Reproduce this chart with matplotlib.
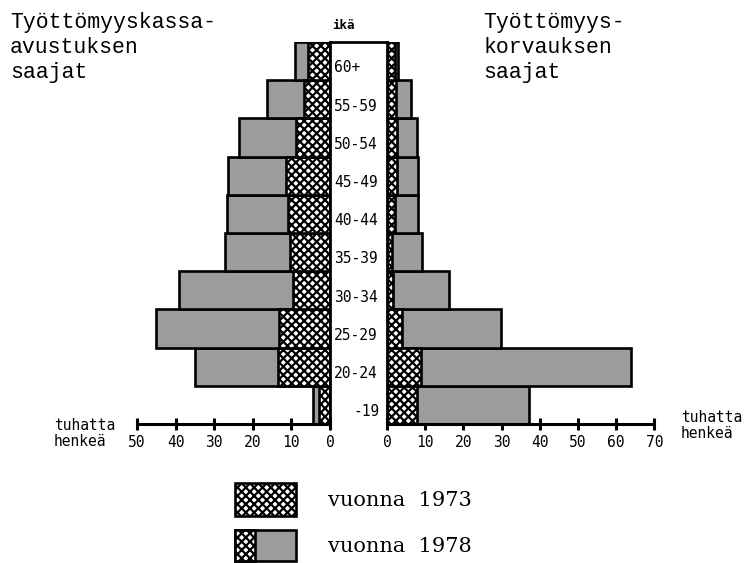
import matplotlib
matplotlib.use("Agg")
import matplotlib.pyplot as plt
from matplotlib.patches import Rectangle

# ---------------- data (thousands of persons) ----------------
age_groups = ["-19", "20-24", "25-29", "30-34", "35-39",
              "40-44", "45-49", "50-54", "55-59", "60+"]
# Työttömyyskassa-avustuksen saajat (left side)
kassa_1973 = [2.9, 13.4, 13.2, 9.7, 10.3, 11.0, 11.4, 8.9, 6.7, 5.7]
kassa_1978 = [4.4, 35.0, 45.1, 39.0, 27.1, 26.7, 26.3, 23.6, 16.3, 9.0]
# Työttömyyskorvauksen saajat (right side)
korvaus_1973 = [7.9, 9.0, 3.8, 1.7, 1.4, 2.2, 2.5, 2.7, 2.4, 2.0]
korvaus_1978 = [37.1, 63.8, 29.8, 16.1, 9.2, 8.2, 8.2, 7.8, 6.2, 3.0]
left_ticks = [0, 10, 20, 30, 40, 50]
right_ticks = [0, 10, 20, 30, 40, 50, 60, 70]
title_left = ["Työttömyyskassa-", "avustuksen", "saajat"]
title_right = ["Työttömyys-", "korvauksen", "saajat"]
unit_label = ["tuhatta", "henkeä"]
legend_labels = ["vuonna  1973", "vuonna  1978"]

# ---------------- styling ----------------
W, H = 749, 563
plt.rcParams["font.family"] = ["DejaVu Sans Mono"]
plt.rcParams["hatch.linewidth"] = 1.6
GRAY = "#9c9c9c"
LW = 1.9
HATCH = "xxxx"
MONO = ["Liberation Mono", "DejaVu Sans Mono"]
SERIF = ["DejaVu Serif"]

fig = plt.figure(figsize=(W / 100, H / 100), dpi=100)


def rect(x0, y0, x1, y1):
    return [x0 / W, 1 - y1 / H, (x1 - x0) / W, (y1 - y0) / H]


TOP, BOT = 42, 424
ZL, ZR = 330, 387          # column edges (zero of each scale), pixels
PXL, PXR = 3.86, 3.82      # pixels per thousand

y = list(range(len(age_groups)))

axL = fig.add_axes(rect(100, TOP, ZL, BOT))
axR = fig.add_axes(rect(ZR, TOP, 690, BOT))
axC = fig.add_axes(rect(ZL, TOP, ZR, BOT))

axL.set_xlim((ZL - 100) / PXL, 0)
axR.set_xlim(0, (690 - ZR) / PXR)
for ax in (axL, axR, axC):
    ax.set_ylim(-0.5, len(age_groups) - 0.5)
    ax.set_yticks([])
    ax.patch.set_alpha(0)

for ax, v73, v78, ticks in ((axL, kassa_1973, kassa_1978, left_ticks),
                            (axR, korvaus_1973, korvaus_1978, right_ticks)):
    ax.barh(y, v78, height=1.0, color=GRAY, edgecolor="black",
            linewidth=LW, zorder=2)
    ax.barh(y, v73, height=1.0, color="white", edgecolor="black",
            linewidth=LW, hatch=HATCH, zorder=3)
    for s in ("top", "left", "right"):
        ax.spines[s].set_visible(False)
    ax.spines["bottom"].set_linewidth(2.2)
    ax.spines["bottom"].set_bounds(ticks[0], ticks[-1])
    ax.spines["bottom"].set_zorder(4)
    ax.set_xticks(ticks)
    ax.set_xticklabels([str(t) for t in ticks])
    ax.tick_params(axis="x", direction="inout", length=8, width=2.2,
                   labelsize=10.5, pad=4)

# centre column
axC.set_xlim(0, 1)
axC.set_xticks([])
axC.spines["bottom"].set_visible(False)
for s in ("top", "left", "right"):
    axC.spines[s].set_linewidth(2.0)
for yi, lab in zip(y, age_groups):
    if lab.startswith("-"):
        axC.text(0.88, yi - 0.18, lab, ha="right", va="center", fontsize=10.5)
    else:
        axC.text(0.07, yi - 0.18, lab, ha="left", va="center", fontsize=10.5)

# overlay in pixel coordinates for texts and legend
ov = fig.add_axes([0, 0, 1, 1])
ov.set_xlim(0, W)
ov.set_ylim(H, 0)
ov.axis("off")
ov.patch.set_alpha(0)

ov.text(343, 29, "ikä", ha="center", va="baseline", fontsize=9,
        fontweight="bold")

for i, line in enumerate(title_left):
    ov.text(10, 28 + 25 * i, line, ha="left", va="baseline",
            fontsize=15.5, family=MONO)
for i, line in enumerate(title_right):
    ov.text(483, 28 + 25 * i, line, ha="left", va="baseline",
            fontsize=15.5, family=MONO)

for i, line in enumerate(unit_label):
    ov.text(54, 426 + 15 * i, line, ha="left", va="center", fontsize=10.5)
    ov.text(681, 418 + 15 * i, line, ha="left", va="center", fontsize=10.5)

# legend
ov.add_patch(Rectangle((235, 483), 61, 33, facecolor="white",
                       edgecolor="black", linewidth=LW, hatch=HATCH))
ov.add_patch(Rectangle((235, 530), 61, 31, facecolor=GRAY,
                       edgecolor="black", linewidth=LW))
ov.add_patch(Rectangle((235, 530), 20, 31, facecolor="white",
                       edgecolor="black", linewidth=LW, hatch=HATCH))
ov.text(328, 500, legend_labels[0], ha="left", va="center", fontsize=15,
        family=SERIF)
ov.text(328, 546, legend_labels[1], ha="left", va="center", fontsize=15,
        family=SERIF)

fig.savefig("out.png", dpi=100)
